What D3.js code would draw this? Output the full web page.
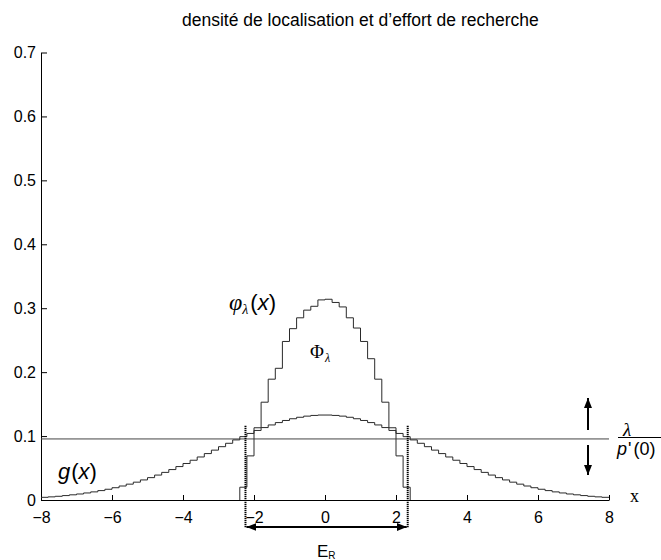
<!DOCTYPE html>
<html>
<head>
<meta charset="utf-8">
<script src="https://cdn.jsdelivr.net/npm/d3@7"></script>
<style>
  html, body { margin: 0; padding: 0; background: #fff; }
  svg { display: block; }
  .sans { font-family: "Liberation Sans", Arial, sans-serif; }
  .serif { font-family: "Liberation Serif", "Times New Roman", serif; }
</style>
</head>
<body>
<div id="chart"></div>
<script>
// ---- data -------------------------------------------------------------
const titleText = "densité de localisation et d’effort de recherche";
const xTicks = [-8, -6, -4, -2, 0, 2, 4, 6, 8];
const yTicks = [0, 0.1, 0.2, 0.3, 0.4, 0.5, 0.6, 0.7];
const yTickLabels = ["0", "0.1", "0.2", "0.3", "0.4", "0.5", "0.6", "0.7"];

// localisation density g(x): step values on cells of width 0.2, from x = -8
const gStart = -8;
const gStepWidth = 0.2;
const gValues = [
  0.0042, 0.0049, 0.0058, 0.0069, 0.0081, 0.0094, 0.0110, 0.0127, 0.0147, 0.0168,
  0.0192, 0.0219, 0.0248, 0.0279, 0.0314, 0.0350, 0.0390, 0.0432, 0.0476, 0.0523,
  0.0571, 0.0622, 0.0673, 0.0726, 0.0780, 0.0834, 0.0887, 0.0940, 0.0991, 0.1041,
  0.1088, 0.1133, 0.1174, 0.1211, 0.1244, 0.1271, 0.1294, 0.1312, 0.1323, 0.1329,
  0.1329, 0.1323, 0.1312, 0.1294, 0.1271, 0.1244, 0.1211, 0.1174, 0.1133, 0.1088,
  0.1041, 0.0991, 0.0940, 0.0887, 0.0834, 0.0780, 0.0726, 0.0673, 0.0622, 0.0571,
  0.0523, 0.0476, 0.0432, 0.0390, 0.0350, 0.0314, 0.0279, 0.0248, 0.0219, 0.0192,
  0.0168, 0.0147, 0.0127, 0.0110, 0.0094, 0.0081, 0.0069, 0.0058, 0.0049, 0.0042
];

// search effort phi_lambda(x): step values on cells of width 0.2, from x = -2.4
const phiStart = -2.4;
const phiStepWidth = 0.2;
const phiValues = [
  0.020, 0.069, 0.113, 0.153, 0.189, 0.206, 0.248, 0.268, 0.285, 0.297, 0.303, 0.313,
  0.314, 0.309, 0.302, 0.285, 0.269, 0.248, 0.221, 0.189, 0.153, 0.113, 0.069, 0.020
];

// threshold lambda / p'(0) and the bounds of the searched zone E_R
const lambdaLevel = 0.0955;
const erBounds = [-2.24, 2.33];
const erTop = 0.116;

// ---- layout -----------------------------------------------------------
const W = 661, H = 560;
const svg = d3.select("#chart").append("svg")
  .attr("width", W).attr("height", H)
  .attr("viewBox", `0 0 ${W} ${H}`);

const x = d3.scaleLinear().domain([-8, 8]).range([41, 609]);
const y = d3.scaleLinear().domain([0, 0.7]).range([500, 52.5]);

const ink = "#000";
const curveInk = "#2a2a2a";

// title
svg.append("text")
  .attr("class", "sans")
  .attr("x", 182).attr("y", 26)
  .attr("font-size", 17.5)
  .attr("fill", ink)
  .text(titleText);

// axes (ticks drawn inward)
const xAxis = d3.axisBottom(x).tickValues(xTicks).tickSizeInner(-5).tickSizeOuter(0)
  .tickPadding(12).tickFormat(d3.format("d"));
const yAxis = d3.axisLeft(y).tickValues(yTicks).tickSizeInner(-6).tickSizeOuter(0)
  .tickPadding(5).tickFormat((d, i) => yTickLabels[i]);

const gx = svg.append("g").attr("transform", `translate(0,${y(0)})`).call(xAxis);
const gy = svg.append("g").attr("transform", `translate(${x(-8)},0)`).call(yAxis);
[gx, gy].forEach(g => {
  g.select(".domain").attr("stroke", ink).attr("stroke-width", 1);
  g.selectAll(".tick line").attr("stroke", ink);
  g.selectAll(".tick text").attr("class", "sans").attr("font-size", 16).attr("fill", ink);
});

// horizontal threshold line
svg.append("line")
  .attr("x1", x(-8)).attr("x2", x(8))
  .attr("y1", y(lambdaLevel)).attr("y2", y(lambdaLevel))
  .attr("stroke", "#444").attr("stroke-width", 1);

// step curves
const stairs = d3.line().x(d => x(d[0])).y(d => y(d[1])).curve(d3.curveStepAfter);

const gPoints = gValues.map((v, i) => [gStart + i * gStepWidth, v]);
gPoints.push([gStart + gValues.length * gStepWidth, gValues[gValues.length - 1]]);
svg.append("path").datum(gPoints)
  .attr("d", stairs).attr("fill", "none")
  .attr("stroke", curveInk).attr("stroke-width", 1);

const phiEnd = phiStart + phiValues.length * phiStepWidth;
const phiPoints = [[phiStart, 0]].concat(
  phiValues.map((v, i) => [phiStart + i * phiStepWidth, v]),
  [[phiEnd, phiValues[phiValues.length - 1]], [phiEnd, 0]]
);
svg.append("path").datum(phiPoints)
  .attr("d", stairs).attr("fill", "none")
  .attr("stroke", curveInk).attr("stroke-width", 1);

// arrow heads
const defs = svg.append("defs");
defs.append("marker").attr("id", "head")
  .attr("viewBox", "0 0 10 8").attr("refX", 10).attr("refY", 4)
  .attr("markerUnits", "userSpaceOnUse")
  .attr("markerWidth", 10).attr("markerHeight", 8)
  .attr("orient", "auto-start-reverse")
  .append("path").attr("d", "M0,0 L10,4 L0,8 Z").attr("fill", ink);

// bounds of E_R (dotted) and the double arrow below the axis
const arrowY = y(0) + 27;
erBounds.forEach(b => {
  svg.append("line")
    .attr("x1", x(b)).attr("x2", x(b))
    .attr("y1", y(erTop)).attr("y2", arrowY + 1)
    .attr("stroke", ink).attr("stroke-width", 2)
    .attr("stroke-dasharray", "1.2,0.8");
});
svg.append("line")
  .attr("x1", x(erBounds[0]) + 1).attr("x2", x(erBounds[1]) - 1)
  .attr("y1", arrowY).attr("y2", arrowY)
  .attr("stroke", ink).attr("stroke-width", 2)
  .attr("marker-start", "url(#head)").attr("marker-end", "url(#head)");

// up / down arrows around the threshold
const arrowX = 588;
svg.append("line")
  .attr("x1", arrowX).attr("x2", arrowX)
  .attr("y1", y(lambdaLevel) - 9).attr("y2", y(lambdaLevel) - 41)
  .attr("stroke", ink).attr("stroke-width", 2).attr("marker-end", "url(#head)");
svg.append("line")
  .attr("x1", arrowX).attr("x2", arrowX)
  .attr("y1", y(lambdaLevel) + 6).attr("y2", y(lambdaLevel) + 36)
  .attr("stroke", ink).attr("stroke-width", 2).attr("marker-end", "url(#head)");

// ---- labels -----------------------------------------------------------
// phi_lambda(x)
const phiLab = svg.append("text").attr("x", 229).attr("y", 310).attr("fill", ink);
phiLab.append("tspan").attr("class", "serif").attr("font-style", "italic").attr("font-size", 24).text("φ");
phiLab.append("tspan").attr("class", "serif").attr("font-style", "italic").attr("font-size", 14).attr("dy", 4).text("λ");
phiLab.append("tspan").attr("class", "sans").attr("font-size", 22).attr("dy", -4).attr("dx", 2).text("(");
phiLab.append("tspan").attr("class", "sans").attr("font-style", "italic").attr("font-size", 22).text("x");
phiLab.append("tspan").attr("class", "sans").attr("font-size", 22).text(")");

// Phi_lambda
const bigPhi = svg.append("text").attr("x", 310).attr("y", 358).attr("fill", ink);
bigPhi.append("tspan").attr("class", "serif").attr("font-size", 19).text("Φ");
bigPhi.append("tspan").attr("class", "serif").attr("font-style", "italic").attr("font-size", 12).attr("dy", 4).attr("dx", 1).text("λ");

// g(x)
const gLab = svg.append("text").attr("x", 58).attr("y", 479).attr("fill", ink);
gLab.append("tspan").attr("class", "sans").attr("font-style", "italic").attr("font-size", 22).text("g");
gLab.append("tspan").attr("class", "sans").attr("font-size", 22).attr("dx", 1).text("(");
gLab.append("tspan").attr("class", "sans").attr("font-style", "italic").attr("font-size", 22).text("x");
gLab.append("tspan").attr("class", "sans").attr("font-size", 22).text(")");

// lambda / p'(0)
svg.append("text").attr("class", "serif").attr("font-style", "italic").attr("font-size", 19)
  .attr("x", 623).attr("y", 436).attr("fill", ink).text("λ");
svg.append("line").attr("x1", 618).attr("x2", 661)
  .attr("y1", 437.5).attr("y2", 437.5).attr("stroke", ink).attr("stroke-width", 1);
const pLab = svg.append("text").attr("x", 617).attr("y", 455).attr("fill", ink);
pLab.append("tspan").attr("class", "sans").attr("font-style", "italic").attr("font-size", 18).text("p");
pLab.append("tspan").attr("class", "sans").attr("font-size", 18).attr("dx", 1).text("'");
pLab.append("tspan").attr("class", "sans").attr("font-size", 18).attr("dx", 2).text("(0)");

// axis name
svg.append("text").attr("class", "serif").attr("font-size", 18)
  .attr("x", 630).attr("y", 502).attr("fill", ink).text("x");

// E_R
const erLab = svg.append("text").attr("x", 317).attr("y", 556.5).attr("fill", ink);
erLab.append("tspan").attr("class", "sans").attr("font-size", 17).text("E");
erLab.append("tspan").attr("class", "sans").attr("font-size", 10).attr("dy", 2).text("R");
</script>
</body>
</html>
